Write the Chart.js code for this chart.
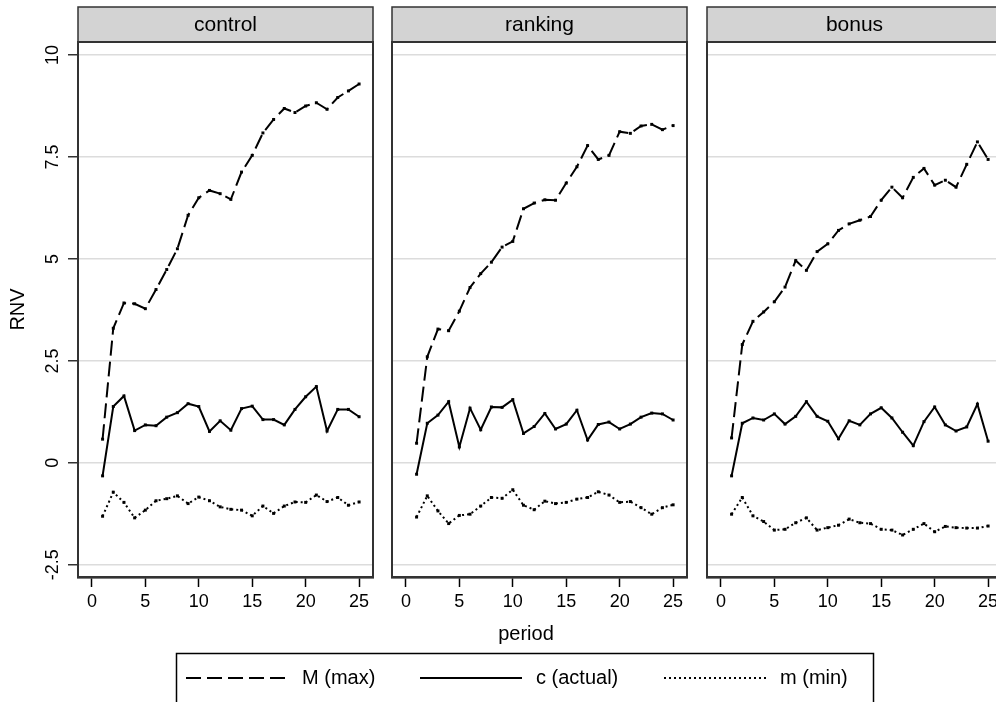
<!DOCTYPE html>
<html><head><meta charset="utf-8">
<script src="https://cdn.jsdelivr.net/npm/chart.js@4/dist/chart.umd.min.js"></script>
<style>
html,body{margin:0;padding:0;overflow:hidden;background:#fff;width:996px;height:702px;}
canvas{position:absolute;left:0;top:0;}
</style></head><body>
<canvas id="c0" width="1010" height="702"></canvas>
<canvas id="c1" width="1010" height="702"></canvas>
<canvas id="c2" width="1010" height="702"></canvas>
<script>
// ---- data ----
const periods = [1,2,3,4,5,6,7,8,9,10,11,12,13,14,15,16,17,18,19,20,21,22,23,24,25];
const panelNames = ['control', 'ranking', 'bonus'];
const seriesNames = ['M (max)', 'c (actual)', 'm (min)'];
const xTicks = [0, 5, 10, 15, 20, 25];
const yTicks = [-2.5, 0, 2.5, 5, 7.5, 10];
const xTitle = 'period';
const yTitle = 'RNV';

const controlMax    = [0.58, 3.3, 3.92, 3.90, 3.78, 4.25, 4.74, 5.25, 6.07, 6.50, 6.68, 6.60, 6.46, 7.13, 7.54, 8.09, 8.42, 8.69, 8.59, 8.75, 8.83, 8.67, 8.96, 9.12, 9.29];
const controlActual = [-0.32, 1.38, 1.64, 0.79, 0.93, 0.91, 1.12, 1.23, 1.45, 1.38, 0.77, 1.03, 0.80, 1.33, 1.39, 1.06, 1.06, 0.93, 1.31, 1.62, 1.87, 0.78, 1.31, 1.31, 1.13];
const controlMin    = [-1.31, -0.72, -0.97, -1.35, -1.16, -0.93, -0.88, -0.81, -1.00, -0.84, -0.93, -1.08, -1.14, -1.16, -1.30, -1.06, -1.24, -1.06, -0.96, -0.97, -0.79, -0.95, -0.85, -1.04, -0.96];

const rankingMax    = [0.48, 2.6, 3.28, 3.24, 3.72, 4.3, 4.64, 4.92, 5.29, 5.43, 6.23, 6.37, 6.45, 6.44, 6.86, 7.26, 7.78, 7.44, 7.54, 8.12, 8.08, 8.26, 8.30, 8.17, 8.27];
const rankingActual = [-0.28, 0.97, 1.17, 1.50, 0.39, 1.34, 0.81, 1.37, 1.36, 1.55, 0.72, 0.89, 1.21, 0.83, 0.95, 1.29, 0.56, 0.94, 1.00, 0.83, 0.95, 1.12, 1.22, 1.20, 1.05];
const rankingMin    = [-1.33, -0.81, -1.18, -1.49, -1.29, -1.26, -1.06, -0.85, -0.87, -0.66, -1.04, -1.15, -0.94, -1.00, -0.97, -0.89, -0.85, -0.71, -0.79, -0.97, -0.95, -1.10, -1.26, -1.10, -1.03];

const bonusMax      = [0.61, 2.90, 3.47, 3.70, 3.95, 4.31, 4.96, 4.72, 5.18, 5.37, 5.70, 5.86, 5.95, 6.04, 6.44, 6.76, 6.50, 7.00, 7.22, 6.81, 6.93, 6.76, 7.32, 7.87, 7.44];
const bonusActual   = [-0.32, 0.97, 1.10, 1.05, 1.20, 0.95, 1.14, 1.50, 1.14, 1.02, 0.59, 1.03, 0.93, 1.20, 1.35, 1.10, 0.75, 0.42, 1.01, 1.37, 0.93, 0.78, 0.88, 1.44, 0.53];
const bonusMin      = [-1.26, -0.85, -1.30, -1.44, -1.65, -1.63, -1.47, -1.35, -1.65, -1.59, -1.53, -1.38, -1.47, -1.49, -1.63, -1.65, -1.77, -1.63, -1.49, -1.69, -1.56, -1.59, -1.60, -1.60, -1.55];

const panelSeries = [
  [controlMax, controlActual, controlMin],
  [rankingMax, rankingActual, rankingMin],
  [bonusMax, bonusActual, bonusMin]
];

// ---- layout / style ----
const FONT = '"Liberation Sans", Arial, Helvetica, sans-serif';
const CW = 1010, CH = 702;
const panelLeft = [78, 392, 707];
const panelW = 295;
const plotTop = 42, plotBottom = 577, stripTop = 7;
const dashes = [[15, 6], [], [2, 3]];

const stripPlugin = {
  id: 'strip',
  afterDraw(chart, args, opts) {
    const {ctx, chartArea: a} = chart;
    ctx.save();
    ctx.fillStyle = '#d3d3d3';
    ctx.fillRect(a.left, stripTop, a.right - a.left, a.top - stripTop);
    ctx.strokeStyle = '#333';
    ctx.lineWidth = 1.5;
    ctx.strokeRect(a.left, stripTop, a.right - a.left, a.top - stripTop);
    ctx.lineWidth = 2;
    ctx.strokeRect(a.left, a.top, a.right - a.left, a.bottom - a.top);
    ctx.fillStyle = '#000';
    ctx.font = '21px ' + FONT;
    ctx.textAlign = 'center';
    ctx.textBaseline = 'middle';
    ctx.fillText(opts.text, (a.left + a.right) / 2, (stripTop + a.top) / 2 + 1);
    ctx.restore();
  }
};

const legendPlugin = {
  id: 'legendBox',
  afterDraw(chart, args, opts) {
    if (!opts.show) return;
    const ctx = chart.ctx;
    ctx.save();
    // x-axis title
    ctx.fillStyle = '#000';
    ctx.font = '20px ' + FONT;
    ctx.textAlign = 'center';
    ctx.textBaseline = 'middle';
    ctx.fillText(xTitle, 526, 634);
    // legend box
    ctx.strokeStyle = '#000';
    ctx.lineWidth = 1.5;
    ctx.strokeRect(176.5, 653.5, 697, 60);
    const lineStarts = [186, 420, 664];
    const ly = 678;
    chart.data.datasets.forEach((ds, i) => {
      ctx.setLineDash(ds.borderDash || []);
      ctx.lineWidth = 2;
      ctx.beginPath();
      ctx.moveTo(lineStarts[i], ly);
      ctx.lineTo(lineStarts[i] + 102, ly);
      ctx.stroke();
      ctx.setLineDash([]);
      ctx.textAlign = 'left';
      ctx.fillText(ds.label, lineStarts[i] + 116, ly);
    });
    ctx.restore();
  }
};

function makeChart(idx) {
  const left = panelLeft[idx];
  const isFirst = idx === 0;
  const datasets = panelSeries[idx].map((arr, k) => ({
    label: seriesNames[k],
    data: periods.map((p, j) => ({x: p, y: arr[j]})),
    borderColor: '#000',
    backgroundColor: '#000',
    borderWidth: 2,
    borderDash: dashes[k],
    borderCapStyle: 'butt',
    pointStyle: 'rect',
    pointRadius: 2.1,
    pointBorderWidth: 0,
    pointBackgroundColor: '#000',
    tension: 0
  }));
  return new Chart(document.getElementById('c' + idx), {
    type: 'line',
    data: {datasets},
    plugins: [stripPlugin, legendPlugin],
    options: {
      responsive: false,
      animation: false,
      events: [],
      layout: {padding: {left: isFirst ? 0 : left, right: CW - left - panelW, top: plotTop, bottom: 0}},
      plugins: {
        legend: {display: false},
        tooltip: {enabled: false},
        strip: {text: panelNames[idx]},
        legendBox: {show: isFirst}
      },
      scales: {
        x: {
          type: 'linear', min: -1.3, max: 26.3,
          afterBuildTicks: s => { s.ticks = xTicks.map(v => ({value: v})); },
          afterFit: s => { s.height = CH - plotBottom; },
          grid: {drawOnChartArea: false, tickLength: 10, tickColor: '#000', tickWidth: 1.5},
          border: {display: true, color: '#000', width: 2.5},
          ticks: {font: {family: FONT, size: 18}, color: '#000', padding: 4, maxRotation: 0, autoSkip: false}
        },
        y: {
          type: 'linear', min: -2.8, max: 10.32,
          afterBuildTicks: s => { s.ticks = yTicks.map(v => ({value: v})); },
          afterFit: s => { s.width = isFirst ? left : 0; },
          grid: {color: '#dcdcdc', lineWidth: 1.5, tickLength: isFirst ? 10 : 0, drawTicks: isFirst, tickColor: '#333', tickWidth: 1.5},
          border: {display: false},
          ticks: {display: isFirst, minRotation: 90, maxRotation: 90, crossAlign: 'center', padding: -1,
                  font: {family: FONT, size: 18}, color: '#000', callback: v => String(v)},
          title: {display: isFirst, text: yTitle, font: {family: FONT, size: 20}, color: '#000', padding: {top: 6, bottom: 0}}
        }
      }
    }
  });
}
[0, 1, 2].forEach(makeChart);
</script>
</body></html>
